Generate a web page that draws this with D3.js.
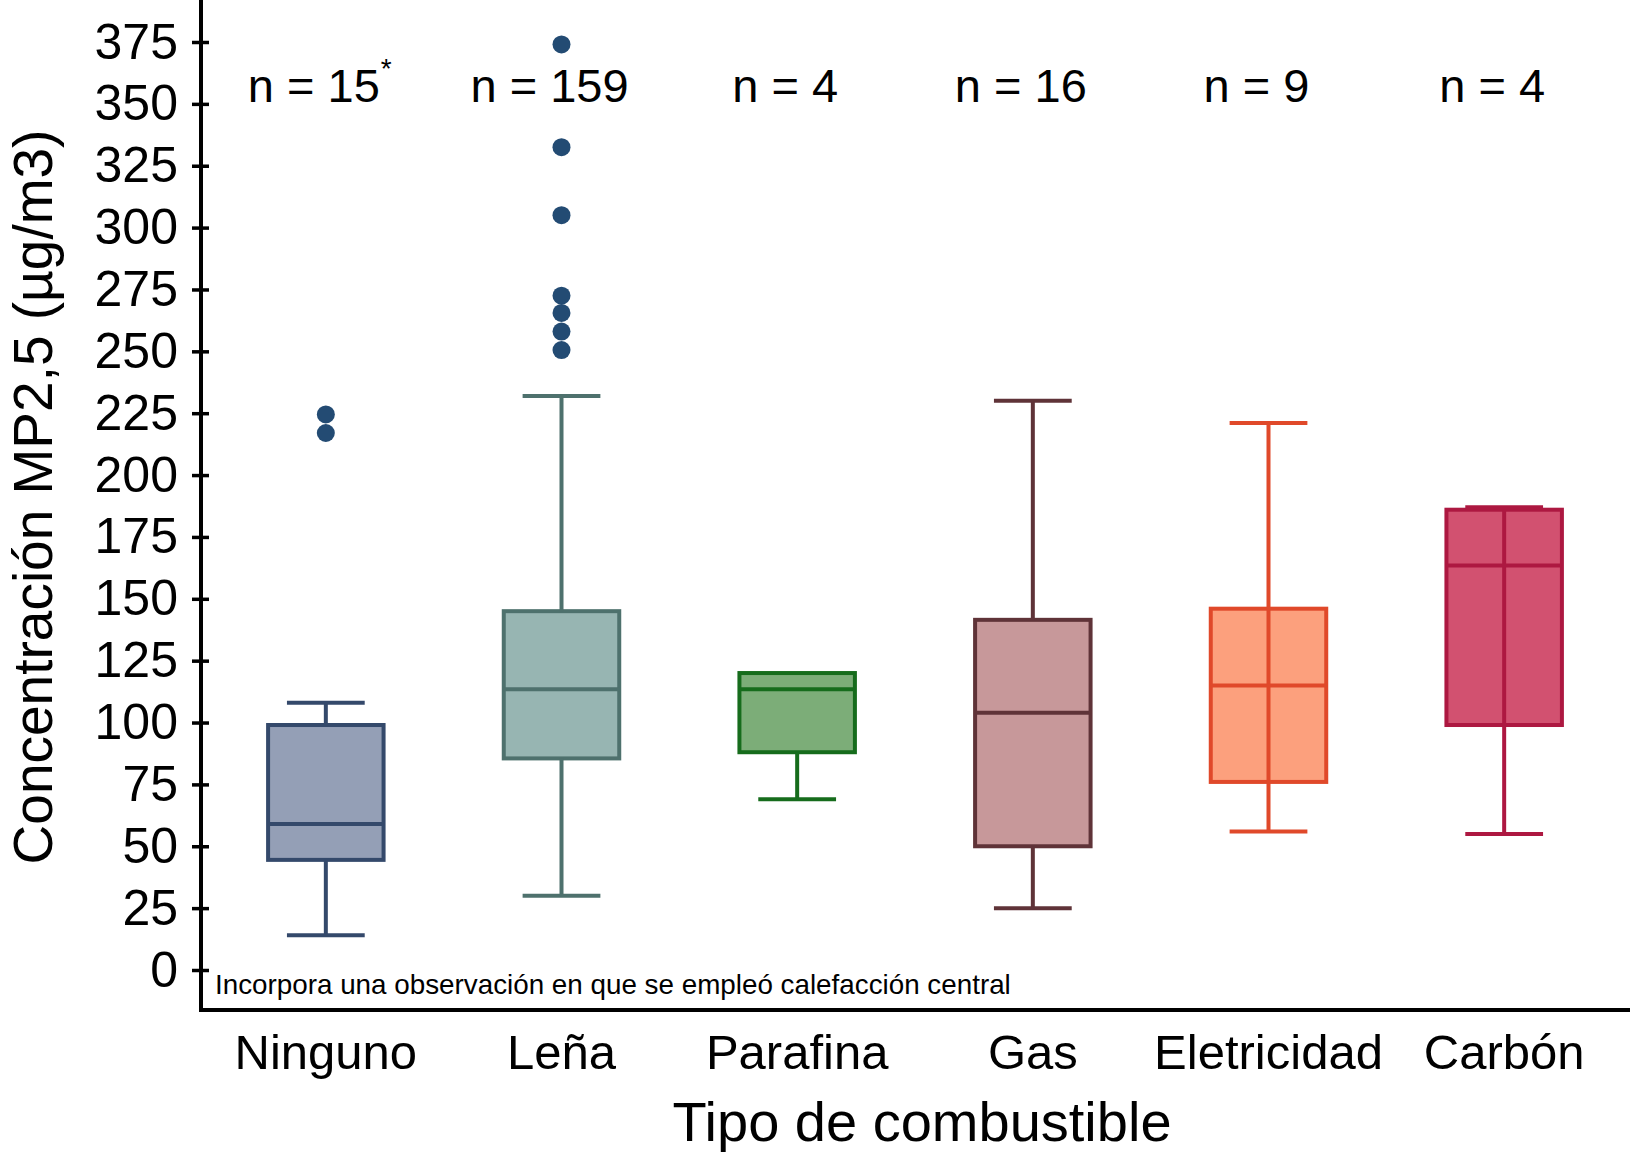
<!DOCTYPE html>
<html lang="es">
<head>
<meta charset="UTF-8">
<title>Concentración MP2,5 por tipo de combustible</title>
<script src="https://cdn.jsdelivr.net/npm/d3@7/dist/d3.min.js"></script>
<style>
  body { margin: 0; background: #fff; }
  svg { display: block; font-family: "Liberation Sans", Arial, Helvetica, sans-serif; }
</style>
</head>
<body>
<div id="chart"></div>
<script>
// datos
const categories = ["Ninguno", "Leña", "Parafina", "Gas", "Eletricidad", "Carbón"]
const nLabels = ["n = 15", "n = 159", "n = 4", "n = 16", "n = 9", "n = 4"]
const whiskerLow = [14, 30, 69, 25, 56, 55]
const q1 = [44.5, 85.5, 88, 50, 76, 99]
const median = [59, 113.5, 113.5, 104, 115, 163.5]
const q3 = [99, 145, 120, 141.5, 146, 186]
const whiskerHigh = [108, 232, 120, 230, 221, 187]
const outliers = [
  [224.5, 217],
  [374, 332.5, 305, 272.5, 265.5, 258, 250.5],
  [], [], [], []
]
const fills = ["#949fb6", "#97b5b2", "#7cad78", "#c7989a", "#fca07d", "#d25170"]
const strokes = ["#34496b", "#4e716d", "#166c1c", "#5f3338", "#e0492a", "#ad1841"]
const yTicks = d3.range(0, 376, 25)
const note = "Incorpora una observación en que se empleó calefacción central"

const width = 1630, height = 1152
const margin = { left: 201, right: 0, top: 42, bottom: 182 }
const axisY = 1010

const svg = d3.select('#chart').append('svg').attr('width', width).attr('height', height)

const x = d3.scaleBand().domain(categories).range([208, 1622]).padding(0)
const y = d3.scaleLinear().domain([0, 375]).range([height - margin.bottom, margin.top])

const boxW = x.bandwidth() * 0.49
const capW = x.bandwidth() * 0.33

// cajas
const boxes = categories.map((c, i) => ({
  c, i, lo: whiskerLow[i], q1: q1[i], med: median[i], q3: q3[i], hi: whiskerHigh[i],
  out: outliers[i], fill: fills[i], stroke: strokes[i]
}))

const g = svg.append('g')
const bg = g.selectAll('g.box').data(boxes).enter().append('g').attr('class', 'box')
  .attr('transform', d => `translate(${x(d.c) + x.bandwidth() / 2},0)`)

// en Eletricidad y Carbón la línea del bigote atraviesa la caja
const through = new Set(["Eletricidad", "Carbón"])

bg.append('rect')
  .attr('x', -boxW / 2).attr('width', boxW)
  .attr('y', d => y(d.q3)).attr('height', d => y(d.q1) - y(d.q3))
  .attr('fill', d => d.fill).attr('stroke', d => d.stroke).attr('stroke-width', 4)

bg.each(function (d) {
  const s = d3.select(this)
  const segs = through.has(d.c) ? [[d.lo, d.hi]] : [[d.lo, d.q1], [d.q3, d.hi]]
  segs.forEach(([a, b]) => {
    if (b > a) s.append('line').attr('x1', 0).attr('x2', 0).attr('y1', y(a)).attr('y2', y(b))
      .attr('stroke', d.stroke).attr('stroke-width', 4)
  })
  ;[d.lo, d.hi].forEach(v => {
    if (v < d.q1 || v > d.q3) s.append('line').attr('x1', -capW / 2).attr('x2', capW / 2)
      .attr('y1', y(v)).attr('y2', y(v)).attr('stroke', d.stroke).attr('stroke-width', 4)
  })
  s.append('line').attr('x1', -boxW / 2).attr('x2', boxW / 2)
    .attr('y1', y(d.med)).attr('y2', y(d.med)).attr('stroke', d.stroke).attr('stroke-width', 4)
  s.selectAll('circle').data(d.out).enter().append('circle')
    .attr('cx', 0).attr('cy', v => y(v)).attr('r', 9).attr('fill', '#234b73')
})

// etiquetas n (un poco a la izquierda del centro, como en el original)
const nl = svg.append('g').selectAll('text').data(categories).enter().append('text')
  .attr('x', d => x(d) + x.bandwidth() / 2 - 12).attr('y', 102)
  .attr('text-anchor', 'middle').attr('font-size', 47).attr('fill', '#000')
  .text((d, i) => nLabels[i])
// asterisco tras "n = 15"
const first = nl.filter((d, i) => i === 0)
const fb = first.node().getBBox()
svg.append('text').attr('x', fb.x + fb.width + 1).attr('y', 78).attr('font-size', 28).text('*')

// eje y
const yAxis = svg.append('g').attr('transform', `translate(${margin.left},0)`)
  .call(d3.axisLeft(y).tickValues(yTicks).tickSize(0).tickPadding(23))
yAxis.select('.domain').remove()
yAxis.selectAll('text').attr('font-size', 50).attr('font-family', 'Liberation Sans, Arial, sans-serif').attr('fill', '#000')
yAxis.selectAll('.tick').append('line').attr('x1', -9).attr('x2', 8).attr('stroke', '#000').attr('stroke-width', 3.5)
svg.append('line').attr('x1', margin.left).attr('x2', margin.left).attr('y1', 0).attr('y2', axisY + 2)
  .attr('stroke', '#000').attr('stroke-width', 4)

// eje x
svg.append('line').attr('x1', margin.left - 2).attr('x2', width).attr('y1', axisY).attr('y2', axisY)
  .attr('stroke', '#000').attr('stroke-width', 4)
const xAxis = svg.append('g').attr('transform', `translate(0,${axisY})`)
  .call(d3.axisBottom(x).tickSize(0).tickPadding(24))
xAxis.select('.domain').remove()
xAxis.selectAll('text').attr('font-size', 49).attr('font-family', 'Liberation Sans, Arial, sans-serif').attr('fill', '#000')

// nota
svg.append('text').attr('x', 215).attr('y', 994).attr('font-size', 27.8).text(note)

// títulos
svg.append('text').attr('x', 922).attr('y', 1141)
  .attr('text-anchor', 'middle').attr('font-size', 56).text('Tipo de combustible')
svg.append('text').attr('transform', `translate(52,497) rotate(-90)`)
  .attr('text-anchor', 'middle').attr('font-size', 55).text('Concentración MP2,5 (µg/m3)')
</script>
</body>
</html>
